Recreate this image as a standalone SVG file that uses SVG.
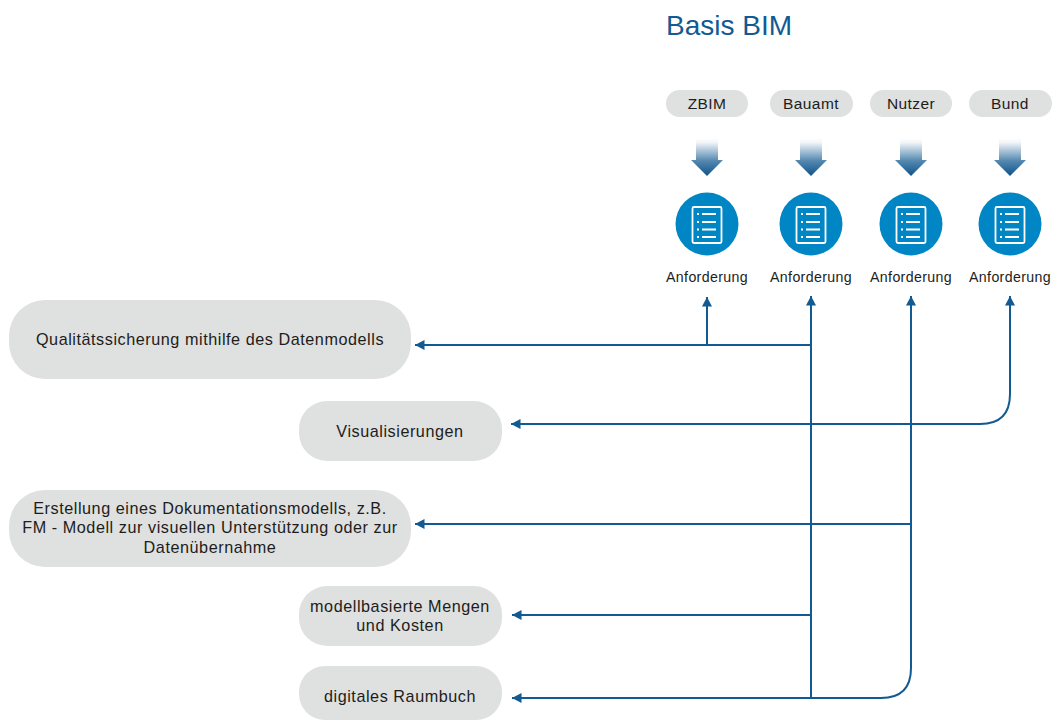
<svg xmlns="http://www.w3.org/2000/svg" width="1058" height="720" viewBox="0 0 1058 720">
<style>
text{font-family:"Liberation Sans",Arial,sans-serif;fill:#1d1d1b;text-anchor:middle}
.pill{fill:#dfe0e0}
.t{font-size:15.500px;letter-spacing:.4px}
.a{font-size:14.200px;letter-spacing:.35px}
.b{font-size:16.200px;letter-spacing:.55px}
.c{fill:none;stroke:#125a92;stroke-width:2}
.ic{fill:none;stroke:#fff;stroke-width:1.800}
.l{stroke:#fff;stroke-width:2}
</style>
<defs>
<linearGradient id="g" x1="0" y1="0" x2="0" y2="1"><stop offset="0" stop-color="#125a92" stop-opacity="0"/><stop offset="0.12" stop-color="#125a92" stop-opacity="0.06"/><stop offset="0.6" stop-color="#125a92" stop-opacity="0.72"/><stop offset="1" stop-color="#0f5288"/></linearGradient>
<marker id="m" markerUnits="userSpaceOnUse" markerWidth="11" markerHeight="11" refX="9.500" refY="5.500" orient="auto"><path d="M0 0.500L9.500 5.500L0 10.500Z" fill="#125a92"/></marker>
<g id="arr"><path d="M-11 -26H11V-4H16L0 12L-16 -4H-11Z" fill="url(#g)"/></g>
<g id="doc">
<rect x="-14.500" y="-18" width="29" height="36" rx="1.500" class="ic"/>
<path class="l" d="M-5 -11H9M-5 -3H9M-5 4.500H9M-5 12H9"/>
<path class="l" d="M-10 -11H-8M-10 -3H-8M-10 4.500H-8M-10 12H-8"/>
</g>
</defs>
<rect width="1058" height="720" fill="#fff"/>
<text x="729" y="35" style="font-size:28px;fill:#125a92">Basis BIM</text>
<g id="connectors">
<path class="c" d="M811 345H415" marker-end="url(#m)"/>
<path class="c" d="M707 345V297" marker-end="url(#m)"/>
<path class="c" d="M811 698V296" marker-end="url(#m)"/>
<path class="c" d="M911 524V296" marker-end="url(#m)"/>
<path class="c" d="M911 524H415" marker-end="url(#m)"/>
<path class="c" d="M1010 394Q1010 424 980 424H511" marker-end="url(#m)"/>
<path class="c" d="M1010 394V296" marker-end="url(#m)"/>
<path class="c" d="M811 615H512" marker-end="url(#m)"/>
<path class="c" d="M911 524V668Q911 698 881 698H512" marker-end="url(#m)"/>
</g>
<g id="n-zbim"><rect class="pill" x="666" y="90" width="82" height="27" rx="13.500"/><text class="t" x="707" y="109">ZBIM</text></g>
<g id="n-bauamt"><rect class="pill" x="770" y="90" width="83" height="27" rx="13.500"/><text class="t" x="811" y="109">Bauamt</text></g>
<g id="n-nutzer"><rect class="pill" x="870" y="90" width="82" height="27" rx="13.500"/><text class="t" x="911" y="109">Nutzer</text></g>
<g id="n-bund"><rect class="pill" x="969" y="90" width="83" height="27" rx="13.500"/><text class="t" x="1010" y="109">Bund</text></g>
<g id="arrow-1"><use href="#arr" x="707" y="164"/></g>
<g id="arrow-2"><use href="#arr" x="811" y="164"/></g>
<g id="arrow-3"><use href="#arr" x="911" y="164"/></g>
<g id="arrow-4"><use href="#arr" x="1010" y="164"/></g>
<g id="req-1"><circle cx="707" cy="224" r="31.500" fill="#0086c4"/><use href="#doc" x="707" y="225"/><text class="a" x="707" y="282">Anforderung</text></g>
<g id="req-2"><circle cx="811" cy="224" r="31.500" fill="#0086c4"/><use href="#doc" x="811" y="225"/><text class="a" x="811" y="282">Anforderung</text></g>
<g id="req-3"><circle cx="911" cy="224" r="31.500" fill="#0086c4"/><use href="#doc" x="911" y="225"/><text class="a" x="911" y="282">Anforderung</text></g>
<g id="req-4"><circle cx="1010" cy="224" r="31.500" fill="#0086c4"/><use href="#doc" x="1010" y="225"/><text class="a" x="1010" y="282">Anforderung</text></g>
<g id="n-qs"><rect class="pill" x="9" y="300" width="402" height="79" rx="36"/><text class="b" x="210" y="345">Qualitätssicherung mithilfe des Datenmodells</text></g>
<g id="n-vis"><rect class="pill" x="299" y="401" width="203" height="60" rx="28"/><text class="b" x="400" y="437">Visualisierungen</text></g>
<g id="n-doc"><rect class="pill" x="9" y="490" width="402" height="77" rx="36"/><text class="b" x="210" y="514">Erstellung eines Dokumentationsmodells, z.B.</text><text class="b" x="210" y="533">FM - Modell zur visuellen Unterstützung oder zur</text><text class="b" x="210" y="553">Datenübernahme</text></g>
<g id="n-mengen"><rect class="pill" x="299" y="586" width="203" height="60" rx="28"/><text class="b" x="400" y="612">modellbasierte Mengen</text><text class="b" x="400" y="631">und Kosten</text></g>
<g id="n-raum"><rect class="pill" x="299" y="666" width="203" height="54" rx="26"/><text class="b" x="400" y="702">digitales Raumbuch</text></g>
</svg>
